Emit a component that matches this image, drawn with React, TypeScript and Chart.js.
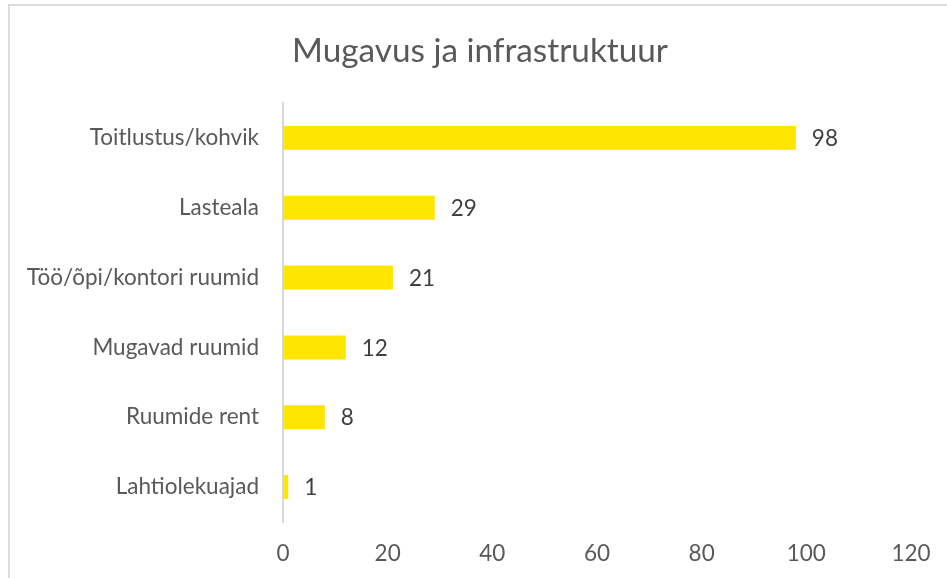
import React, { useEffect, useRef } from "react";
import { Chart, registerables } from "chart.js";

Chart.register(...registerables);

const titleText = "Mugavus ja infrastruktuur";
const categories = [
  "Toitlustus/kohvik",
  "Lasteala",
  "Töö/õpi/kontori ruumid",
  "Mugavad ruumid",
  "Ruumide rent",
  "Lahtiolekuajad",
];
const values = [98, 29, 21, 12, 8, 1];
const xMin = 0;
const xMax = 120;
const xStep = 20;

const FONT = "Lato, 'Open Sans', sans-serif";

const dataLabelPlugin = {
  id: "dataLabels",
  afterDatasetsDraw(chart: any) {
    const ctx = chart.ctx;
    const meta = chart.getDatasetMeta(0);
    ctx.save();
    ctx.font = `22.5px ${FONT}`;
    ctx.fillStyle = "#404040";
    ctx.textAlign = "left";
    ctx.textBaseline = "middle";
    meta.data.forEach((el: any, i: number) => {
      ctx.fillText(String(values[i]), el.x + 16, el.y + 1);
    });
    ctx.restore();
  },
};

export default function App() {
  const ref = useRef<HTMLCanvasElement>(null);
  useEffect(() => {
    if (!ref.current) return;
    const chart = new Chart(ref.current, {
      type: "bar",
      data: {
        labels: categories,
        datasets: [
          {
            data: values,
            backgroundColor: "#FFE500",
            borderWidth: 0,
            categoryPercentage: 1,
            barPercentage: 0.343,
          },
        ],
      },
      options: {
        indexAxis: "y",
        animation: false,
        responsive: false,
        maintainAspectRatio: false,
        layout: { padding: { left: 13, right: 0, top: 0, bottom: 0 } },
        plugins: {
          legend: { display: false },
          tooltip: { enabled: false },
          title: {
            display: true,
            text: titleText,
            color: "#595959",
            font: { family: FONT, size: 33.3, weight: "normal" },
            padding: { top: 31, bottom: 32 },
          },
        },
        scales: {
          x: {
            min: xMin,
            max: xMax,
            afterFit(scale: any) {
              scale.height = 56;
              scale.paddingRight = 36;
              scale.paddingLeft = 0;
            },
            ticks: {
              stepSize: xStep,
              color: "#595959",
              font: { family: FONT, size: 22.5 },
              padding: 18,
            },
            grid: { display: false, drawTicks: false },
            border: { display: false },
          },
          y: {
            afterFit(scale: any) {
              scale.width = 270;
            },
            ticks: {
              color: "#595959",
              font: { family: FONT, size: 22.5 },
              padding: 24,
            },
            grid: { display: false, drawTicks: false },
            border: { display: true, color: "#d9d9d9", width: 2 },
          },
        },
      },
      plugins: [dataLabelPlugin],
    });
    return () => chart.destroy();
  }, []);

  return (
    <div style={{ position: "fixed", left: 0, top: 0, width: 947, height: 578, overflow: "hidden", background: "#fff" }}>
      <div
        style={{
          position: "absolute",
          left: 8,
          top: 4,
          width: 1000,
          height: 700,
          border: "2px solid #dcdcdc",
          boxSizing: "border-box",
        }}
      />
      <canvas ref={ref} width={947} height={578} style={{ position: "absolute", left: 0, top: 0 }} />
    </div>
  );
}
